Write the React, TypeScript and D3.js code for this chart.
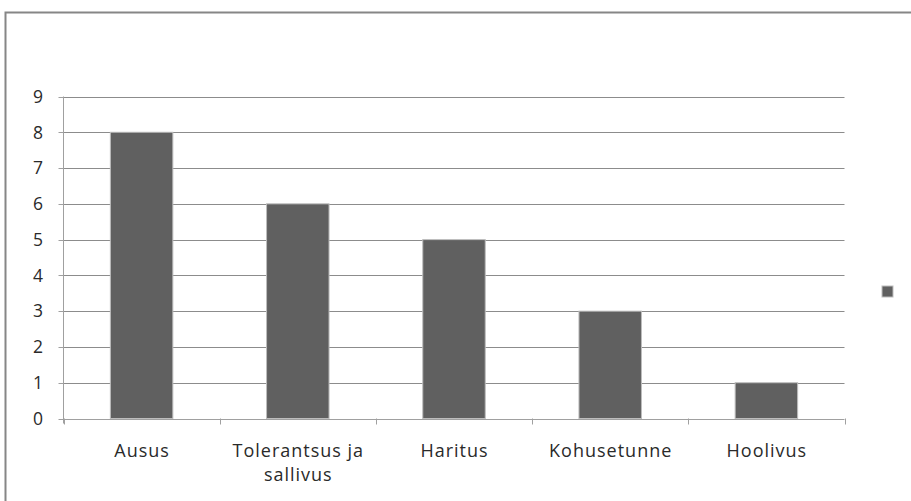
import React from "react";
import * as d3 from "d3";

const categories: string[][] = [
  ["Ausus"],
  ["Tolerantsus ja", "sallivus"],
  ["Haritus"],
  ["Kohusetunne"],
  ["Hoolivus"],
];
const values: number[] = [8, 6, 5, 3, 1];
const yTicks: number[] = [0, 1, 2, 3, 4, 5, 6, 7, 8, 9];

const W = 911;
const H = 501;
const FONT = "'Open Sans', sans-serif";

export default function App() {
  const left = 63.5;
  const right = 844.5;
  const top = 96.5;
  const bottom = 418.5;
  const keys = categories.map((_, i) => String(i));
  const x = d3.scaleBand<string>().domain(keys).range([left, right]).paddingInner(0).paddingOuter(0);
  const y = d3.scaleLinear().domain([0, 9]).range([bottom, top]);
  const bw = x.bandwidth() / 2.5;
  const gridColor = "#8c8c8c";
  const textColor = "#2a2a2a";
  const ls = 1.0;

  return (
    <svg
      width={W}
      height={H}
      style={{ position: "absolute", left: 0, top: 0, background: "#fff" }}
    >
      <rect x={0} y={0} width={W} height={H} fill="#fff" />
      {/* outer border (top and left visible) */}
      <rect x={5.5} y={12.5} width={W + 10} height={H + 10} fill="none" stroke="#868686" strokeWidth={2} />
      {/* grid lines */}
      {yTicks.map((t) => (
        <line key={"g" + t} x1={left} x2={right} y1={Math.round(y(t)) + 0.5} y2={Math.round(y(t)) + 0.5} stroke={t === 0 ? "#a0a0a0" : gridColor} strokeWidth={1} />
      ))}
      {/* y axis */}
      <line x1={left} x2={left} y1={top} y2={bottom + 5} stroke="#a0a0a0" />
      {yTicks.map((t) => (
        <g key={"yt" + t}>
          <line x1={left - 5} x2={left} y1={Math.round(y(t)) + 0.5} y2={Math.round(y(t)) + 0.5} stroke="#a0a0a0" />
          <text x={43} y={y(t)} dy="0.36em" textAnchor="end" fontFamily={FONT} fontSize={17.5} fill={textColor}>
            {t}
          </text>
        </g>
      ))}
      {/* x ticks */}
      {[...keys.map((k) => x(k) as number), right].map((p, i) => (
        <line key={"xt" + i} x1={Math.round(p) + 0.5} x2={Math.round(p) + 0.5} y1={bottom} y2={bottom + 6} stroke="#a0a0a0" />
      ))}
      {/* bars */}
      {values.map((v, i) => {
        const cx = (x(keys[i]) as number) + x.bandwidth() / 2;
        return (
          <rect
            key={"b" + i}
            x={cx - bw / 2}
            y={y(v)}
            width={bw}
            height={y(0) - y(v)}
            fill="#606060"
            stroke="#bdbdbd"
            strokeWidth={1}
          />
        );
      })}
      {/* x labels */}
      {categories.map((lines, i) => {
        const cx = (x(keys[i]) as number) + x.bandwidth() / 2;
        return (
          <text key={"xl" + i} textAnchor="middle" fontFamily={FONT} fontSize={18} letterSpacing={ls} fill={textColor}>
            {lines.map((l, j) => (
              <tspan key={j} x={cx + ls / 2} y={457 + j * 24}>
                {l}
              </tspan>
            ))}
          </text>
        );
      })}
      {/* legend */}
      <rect x={882} y={286} width={11} height={11} fill="#606060" stroke="#bdbdbd" strokeWidth={1} />
    </svg>
  );
}
